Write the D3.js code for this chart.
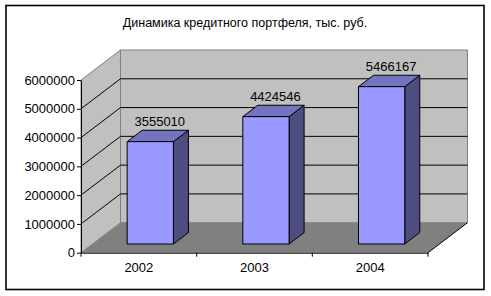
<!DOCTYPE html>
<html>
<head>
<meta charset="utf-8">
<script src="https://cdn.jsdelivr.net/npm/d3@7"></script>
<style>
  body { margin: 0; background: #fff; }
  svg text { font-family: "Liberation Sans", Arial, sans-serif; fill: #000; }
</style>
</head>
<body>
<div id="chart"></div>
<script>
// chart data
var years = ['2002', '2003', '2004'];
var portfolio = [3555010, 4424546, 5466167];
var yTicks = [0, 1000000, 2000000, 3000000, 4000000, 5000000, 6000000];
var chartTitle = 'Динамика кредитного портфеля, тыс. руб.';

var width = 491, height = 296;
var fontSize = 13;

// front plane of the 3d box and the depth offset
var plot = {left: 81, right: 428, top: 80, bottom: 252.7};
var depthX = 39.5, depthY = -30;
var barFront = 0.29, barBack = 0.67;   // bar depth, as share of box depth
var barShare = 0.4;                      // bar width as share of category band

function depth(t) { return [depthX * t, depthY * t]; }

var svg = d3.select('#chart').append('svg')
    .attr('width', width)
    .attr('height', height);

// chart area border
svg.append('rect')
  .attr('x', 6).attr('y', 5.5)
  .attr('width', 478).attr('height', 284)
  .attr('fill', '#fff')
  .attr('stroke', '#000')
  .attr('stroke-width', 1.6);

svg.append('text')
  .attr('x', 245)
  .attr('y', 27)
  .attr('text-anchor', 'middle')
  .style('font-size', '12.5px')
  .text(chartTitle);

var x = d3.scaleBand()
  .domain(years)
  .range([plot.left, plot.right])
  .padding(0);

var y = d3.scaleLinear()
  .domain([0, 6000000])
  .range([plot.bottom, plot.top]);

var back = depth(1);
var line = function(pts) { return 'M' + pts.map(function(p) { return p.join(','); }).join('L') + 'Z'; };

// back wall
svg.append('path')
  .attr('d', line([
    [plot.left + back[0], y(6000000) + back[1]],
    [plot.right + back[0], y(6000000) + back[1]],
    [plot.right + back[0], y(0) + back[1]],
    [plot.left + back[0], y(0) + back[1]]
  ]))
  .attr('fill', '#c0c0c0')
  .attr('stroke', '#808080');

// side wall
svg.append('path')
  .attr('d', line([
    [plot.left, y(6000000)],
    [plot.left + back[0], y(6000000) + back[1]],
    [plot.left + back[0], y(0) + back[1]],
    [plot.left, y(0)]
  ]))
  .attr('fill', '#c0c0c0')
  .attr('stroke', '#808080');

// gridlines on back and side wall
var grid = svg.append('g').attr('class', 'grid');
yTicks.filter(function(v) { return v > 0 && v < 6000000; }).forEach(function(v) {
  grid.append('path')
    .attr('d', 'M' + plot.left + ',' + y(v) +
               'L' + (plot.left + back[0]) + ',' + (y(v) + back[1]) +
               'L' + (plot.right + back[0]) + ',' + (y(v) + back[1]))
    .attr('fill', 'none')
    .attr('stroke', '#000')
    .attr('stroke-width', 1);
});

// floor
svg.append('path')
  .attr('d', line([
    [plot.left, y(0)],
    [plot.right, y(0)],
    [plot.right + back[0], y(0) + back[1]],
    [plot.left + back[0], y(0) + back[1]]
  ]))
  .attr('fill', '#808080')
  .attr('stroke', 'none');

// floor right edge
svg.append('line')
  .attr('x1', plot.right).attr('y1', y(0))
  .attr('x2', plot.right + back[0]).attr('y2', y(0) + back[1])
  .attr('stroke', '#000');

// y axis
var yAxis = svg.append('g')
  .attr('transform', 'translate(' + plot.left + ',0)')
  .call(d3.axisLeft(y).tickValues(yTicks).tickSize(4).tickSizeOuter(0).tickPadding(2).tickFormat(d3.format('d')));
yAxis.select('.domain').attr('stroke', '#000');
yAxis.selectAll('text').style('font-size', fontSize + 'px').attr('font-family', null);

// x axis: labels at band centres, ticks at band edges
var xAxis = svg.append('g')
  .attr('transform', 'translate(0,' + plot.bottom + ')')
  .call(d3.axisBottom(x).tickSize(0).tickSizeOuter(0).tickPadding(10));
xAxis.select('.domain').attr('stroke', '#000');
xAxis.selectAll('text').style('font-size', fontSize + 'px').attr('font-family', null);

xAxis.selectAll('.edge')
  .data(years.map(function(d) { return x(d); }).concat([x.range()[1]]))
  .enter().append('line')
    .attr('class', 'edge')
    .attr('x1', function(d) { return d; })
    .attr('x2', function(d) { return d; })
    .attr('y1', 0)
    .attr('y2', 4)
    .attr('stroke', '#000');

// 3d bars
var f = depth(barFront), b = depth(barBack);
var bars = svg.selectAll('.bar')
    .data(years.map(function(d, i) { return {year: d, value: portfolio[i]}; }))
  .enter().append('g')
    .attr('class', 'bar');

function barGeom(d) {
  var w = x.bandwidth() * barShare;
  var cx = x(d.year) + x.bandwidth() / 2;
  return {l: cx - w / 2, r: cx + w / 2, t: y(d.value), b: y(0)};
}

bars.append('path')  // side face
  .attr('d', function(d) {
    var g = barGeom(d);
    return line([
      [g.r + f[0], g.t + f[1]], [g.r + b[0], g.t + b[1]],
      [g.r + b[0], g.b + b[1]], [g.r + f[0], g.b + f[1]]
    ]);
  })
  .attr('fill', '#4d4d80')
  .attr('stroke', '#000')
  .attr('stroke-linejoin', 'round');

bars.append('path')  // top face
  .attr('d', function(d) {
    var g = barGeom(d);
    return line([
      [g.l + f[0], g.t + f[1]], [g.r + f[0], g.t + f[1]],
      [g.r + b[0], g.t + b[1]], [g.l + b[0], g.t + b[1]]
    ]);
  })
  .attr('fill', '#7373bf')
  .attr('stroke', '#000')
  .attr('stroke-linejoin', 'round');

bars.append('path')  // front face
  .attr('d', function(d) {
    var g = barGeom(d);
    return line([
      [g.l + f[0], g.t + f[1]], [g.r + f[0], g.t + f[1]],
      [g.r + f[0], g.b + f[1]], [g.l + f[0], g.b + f[1]]
    ]);
  })
  .attr('fill', '#9999ff')
  .attr('stroke', '#000');

// value labels over bars
var mid = depth((barFront + barBack) / 2);
bars.append('text')
  .attr('x', function(d) { return x(d.year) + x.bandwidth() / 2 + mid[0] + 2; })
  .attr('y', function(d) { return y(d.value) + b[1] - 4; })
  .attr('text-anchor', 'middle')
  .style('font-size', fontSize + 'px')
  .text(function(d) { return d.value; });
</script>
</body>
</html>
